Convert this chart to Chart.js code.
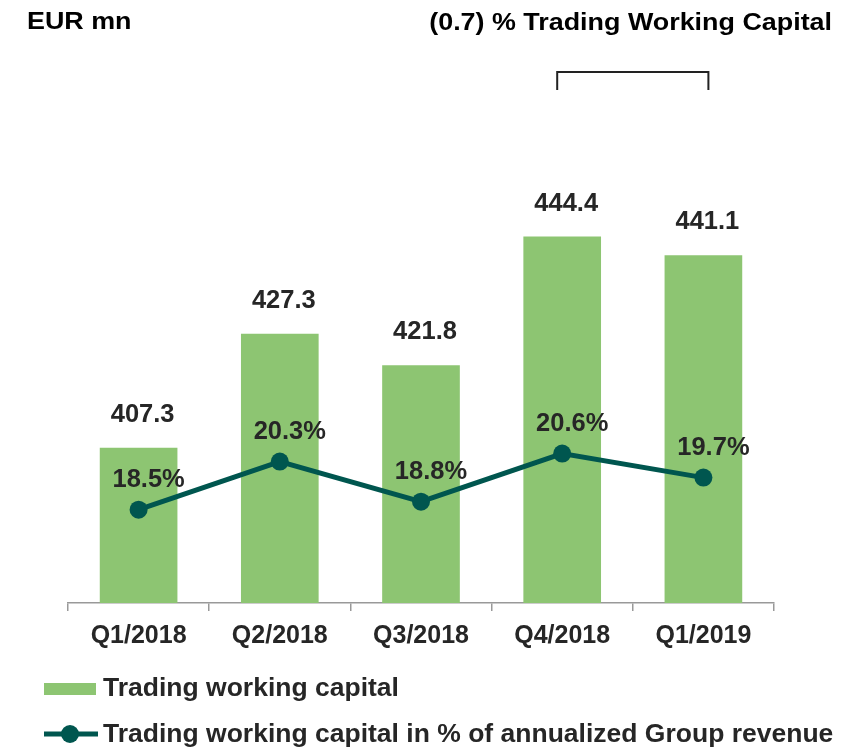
<!DOCTYPE html>
<html lang="en">
<head>
    <meta charset="UTF-8">
    <title>Trading working capital</title>
    <script src="https://cdn.jsdelivr.net/npm/chart.js"></script>
    <style>
        body {
            margin: 0;
            background: #fff;
            font-family: 'Liberation Sans', Arial, sans-serif;
        }
        #wrap {
            width: 854px;
            height: 750px;
            position: relative;
        }
    </style>
</head>
<body>
    <div id="wrap">
        <canvas id="twcChart"></canvas>
    </div>

    <script>
        // data
        var quarters = ['Q1/2018', 'Q2/2018', 'Q3/2018', 'Q4/2018', 'Q1/2019'];
        var twcValues = [407.3, 427.3, 421.8, 444.4, 441.1];
        var twcShare = [18.5, 20.3, 18.8, 20.6, 19.7];
        var barLabel = 'Trading working capital';
        var lineLabel = 'Trading working capital in % of annualized Group revenue';
        var unitTitle = 'EUR mn';
        var changeTitle = '(0.7) % Trading Working Capital';

        var green = '#8DC572';
        var teal = '#00564F';
        var textCol = '#262626';
        var fontName = "'Liberation Sans', Arial, sans-serif";

        // text helper, sx stretches the text horizontally
        function drawText(ctx, txt, x, y, size, sx, align, col) {
            ctx.save();
            ctx.font = 'bold ' + size + 'px ' + fontName;
            ctx.fillStyle = col || textCol;
            ctx.textBaseline = 'alphabetic';
            ctx.textAlign = align || 'left';
            ctx.translate(x, y);
            ctx.scale(sx, 1);
            ctx.fillText(txt, 0, 0);
            ctx.restore();
        }

        var extrasPlugin = {
            id: 'extras',
            afterDatasetsDraw: function(chart) {
                var ctx = chart.ctx;
                // bar values
                chart.getDatasetMeta(1).data.forEach(function(bar, i) {
                    drawText(ctx, twcValues[i].toFixed(1), bar.x + 4, bar.y - 26, 25, 1.02, 'center');
                });
                // percentage labels
                chart.getDatasetMeta(0).data.forEach(function(pt, i) {
                    drawText(ctx, twcShare[i].toFixed(1) + '%', pt.x + 10, pt.y - 23, 25, 1.02, 'center');
                });
            },
            afterDraw: function(chart) {
                var ctx = chart.ctx;
                var xs = chart.scales.x;

                drawText(ctx, unitTitle, 27, 29, 24, 1.12, 'left', '#000');
                drawText(ctx, changeTitle, 832, 30, 24, 1.12, 'right', '#000');

                // bracket over the last two quarters
                var x1 = xs.getPixelForValue(3) - 5;
                var x2 = xs.getPixelForValue(4) + 5;
                ctx.save();
                ctx.strokeStyle = '#222';
                ctx.lineWidth = 2;
                ctx.beginPath();
                ctx.moveTo(x1, 90);
                ctx.lineTo(x1, 72);
                ctx.lineTo(x2, 72);
                ctx.lineTo(x2, 90);
                ctx.stroke();

                // legend
                ctx.fillStyle = green;
                ctx.fillRect(44, 683, 52, 12);
                ctx.strokeStyle = teal;
                ctx.lineWidth = 5;
                ctx.beginPath();
                ctx.moveTo(44, 734);
                ctx.lineTo(98, 734);
                ctx.stroke();
                ctx.fillStyle = teal;
                ctx.beginPath();
                ctx.arc(70, 734, 9, 0, Math.PI * 2);
                ctx.fill();
                ctx.restore();

                drawText(ctx, barLabel, 103, 696, 25, 1.06, 'left');
                drawText(ctx, lineLabel, 103, 742, 25, 1.06, 'left');
            }
        };

        var ctx = document.getElementById('twcChart').getContext('2d');
        var myChart = new Chart(ctx, {
            type: 'bar',
            data: {
                labels: quarters,
                datasets: [{
                    type: 'line',
                    label: lineLabel,
                    data: twcShare,
                    yAxisID: 'y1',
                    borderColor: teal,
                    backgroundColor: teal,
                    borderWidth: 5,
                    pointRadius: 9,
                    pointHoverRadius: 9,
                    pointBackgroundColor: teal,
                    pointBorderWidth: 0,
                    tension: 0
                }, {
                    type: 'bar',
                    label: barLabel,
                    data: twcValues,
                    yAxisID: 'y',
                    backgroundColor: green,
                    categoryPercentage: 1,
                    barPercentage: 0.55
                }]
            },
            options: {
                responsive: true,
                maintainAspectRatio: false,
                animation: false,
                layout: {
                    padding: { left: 68, right: 80, top: 34, bottom: 0 }
                },
                plugins: {
                    legend: { display: false },
                    tooltip: { enabled: false }
                },
                scales: {
                    x: {
                        afterFit: function(scale) { scale.height = 147; },
                        grid: {
                            display: true,
                            drawOnChartArea: false,
                            tickLength: 8,
                            color: '#999',
                            lineWidth: 1.5
                        },
                        border: { display: true, color: '#999', width: 1.5 },
                        ticks: {
                            padding: 10,
                            color: textCol,
                            font: { family: fontName, size: 25, weight: 'bold' }
                        }
                    },
                    y: {
                        display: false,
                        min: 380,
                        max: 480
                    },
                    y1: {
                        display: false,
                        min: 15,
                        max: 36.33
                    }
                }
            },
            plugins: [extrasPlugin]
        });
    </script>
</body>
</html>
